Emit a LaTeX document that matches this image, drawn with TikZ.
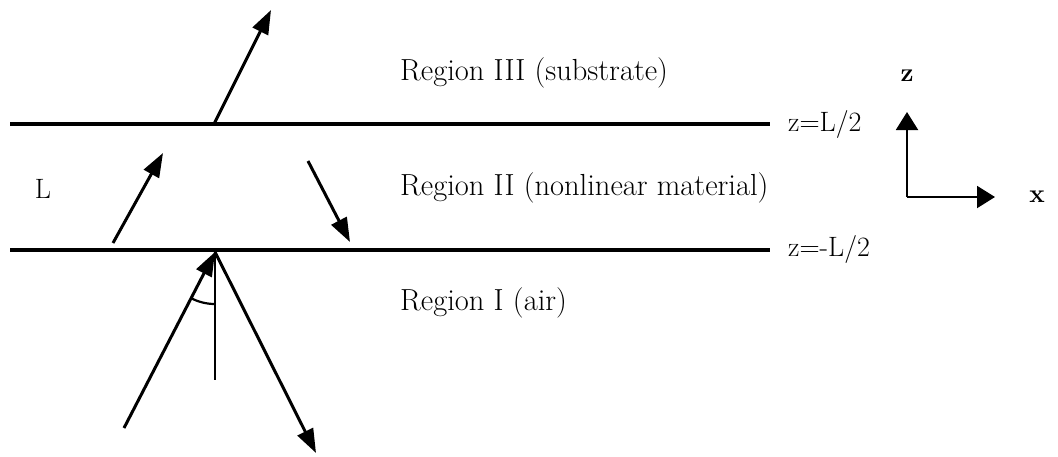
\documentclass[tikz,border=0pt]{standalone}
\usepackage{fontspec}
\usetikzlibrary{arrows.meta}
\begin{document}
\begin{tikzpicture}[x=1pt,y=-1pt,
  lbl/.style={inner sep=0pt,font=\fontsize{28}{32}\selectfont},
  region/.style={inner sep=0pt,anchor=west,font=\fontsize{30.5}{34}\selectfont},
  axlbl/.style={inner sep=0pt,font=\fontsize{26}{30}\selectfont\bfseries},
  layer/.style={line width=3.2pt},
  ray/.style={line width=3pt,-{Triangle[length=24pt,width=17pt]}},
  axis/.style={line width=2pt,-{Triangle[length=18pt,width=22pt]}},
  thin/.style={line width=2.2pt}]
\useasboundingbox (0,0) rectangle (1058,456);
% interfaces
\coordinate (tl) at (10,124);
\coordinate (tr) at (770,124);
\coordinate (bl) at (10,250);
\coordinate (br) at (770,250);
\draw[layer] (tl) -- (tr);
\draw[layer] (bl) -- (br);
% labels
\node[region] (r3) at (400,73) {Region III (substrate)};
\node[region] (r2) at (400,188) {Region II (nonlinear material)};
\node[region] (r1) at (400,303) {Region I (air)};
\node[lbl] (Ll) at (43,189) {L};
\node[lbl,anchor=west] (zt) at (788,124) {z=L/2};
\node[lbl,anchor=west] (zb) at (788,249) {z=-L/2};
% rays
\coordinate (hitT) at (214,124);
\coordinate (tipT) at (271,10);
\coordinate (m1s) at (113,243);
\coordinate (m1e) at (163,153);
\coordinate (m2s) at (308,161);
\coordinate (m2e) at (350,242);
\coordinate (hit) at (215,252);
\coordinate (inc) at (124,428);
\coordinate (refl) at (316,453);
\coordinate (nrm) at (215,380);
\draw[ray] (hitT) -- (tipT);
\draw[ray] (m1s) -- (m1e);
\draw[ray] (m2s) -- (m2e);
\draw[ray] (inc) -- (hit);
\draw[ray] (hit) -- (refl);
\draw[thin] (hit) -- (nrm);
\draw[thin] ([shift={(90:52)}]hit) arc[start angle=90,end angle=117.5,radius=52];
% axes
\coordinate (o) at (907,197);
\coordinate (zt2) at (907,112);
\coordinate (xt) at (995,197);
\draw[axis] (o) -- (zt2);
\draw[axis] (o) -- (xt);
\node[axlbl] (zl) at (907,76) {z};
\node[axlbl] (xl) at (1037,197) {x};
\end{tikzpicture}
\end{document}
